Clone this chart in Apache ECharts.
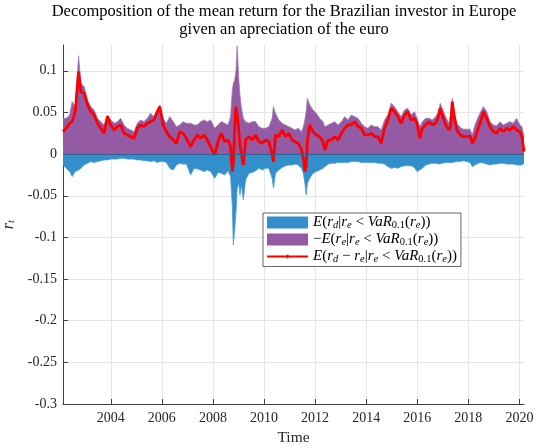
<!DOCTYPE html>
<html><head><meta charset="utf-8">
<script src="https://cdn.jsdelivr.net/npm/echarts@6/dist/echarts.min.js"></script>
<style>html,body{margin:0;padding:0;background:#fff}#c{width:535px;height:448px}</style>
</head><body><div id="c"></div>
<script>
// Time (decimal years)
const years = [
2002.13,2002.26,2002.39,2002.49,2002.61,2002.74,2002.83,2002.96,2003.09,2003.22,2003.35,2003.48,2003.61,2003.74,2003.87,2004.00,2004.13,2004.26,2004.39,2004.52,2004.65,2004.78,2004.91,2005.04,2005.17,2005.30,2005.43,2005.56,2005.69,2005.82,2005.92,2006.05,2006.18,2006.31,2006.45,2006.57,
2006.70,2006.83,2006.96,2007.13,2007.26,2007.39,2007.52,2007.65,2007.78,2007.91,2008.07,2008.20,2008.33,2008.46,2008.59,2008.69,2008.76,2008.80,2008.85,2008.90,2008.95,2009.01,2009.06,2009.11,2009.19,2009.28,2009.41,2009.54,2009.67,2009.80,2009.93,2010.06,2010.19,2010.32,2010.37,2010.45,2010.58,2010.71,2010.84,2010.97,2011.10,
2011.21,2011.34,2011.47,2011.54,2011.60,2011.65,2011.70,2011.79,2011.92,2012.05,2012.18,2012.31,2012.38,2012.51,2012.64,2012.77,2012.90,2013.03,2013.16,2013.29,2013.42,2013.55,2013.68,2013.81,2013.94,2014.07,2014.20,2014.33,2014.46,2014.59,2014.72,2014.85,2014.98,2015.11,2015.24,2015.37,2015.50,2015.63,
2015.76,2015.89,2015.99,2016.10,2016.20,2016.33,2016.46,2016.59,2016.72,2016.83,2016.90,2016.98,2017.11,2017.24,2017.31,2017.37,2017.44,2017.55,2017.68,2017.81,2017.94,2018.07,2018.15,2018.26,2018.39,2018.52,2018.59,2018.72,2018.85,2018.98,2019.11,2019.24,2019.37,2019.50,2019.63,2019.76,2019.89,2020.02,2020.10,2020.18
];
// E(r_d | r_e < VaR_0.1(r_e))  (blue, negative)
const blueVals = [
-0.013,-0.017,-0.021,-0.027,-0.021,-0.019,-0.017,-0.013,-0.011,-0.009,-0.010,-0.009,-0.008,-0.007,-0.007,-0.006,-0.006,-0.006,-0.005,-0.005,-0.006,-0.006,-0.006,-0.007,-0.007,-0.008,-0.008,-0.009,-0.008,-0.010,-0.009,-0.009,-0.010,-0.017,-0.019,-0.013,
-0.011,-0.012,-0.012,-0.025,-0.017,-0.018,-0.019,-0.021,-0.019,-0.021,-0.029,-0.022,-0.023,-0.025,-0.020,-0.027,-0.063,-0.109,-0.091,-0.071,-0.041,-0.035,-0.049,-0.037,-0.055,-0.031,-0.023,-0.022,-0.020,-0.017,-0.019,-0.017,-0.017,-0.029,-0.041,-0.023,-0.019,-0.016,-0.014,-0.013,-0.013,
-0.012,-0.013,-0.017,-0.023,-0.035,-0.049,-0.035,-0.029,-0.023,-0.021,-0.019,-0.017,-0.015,-0.012,-0.011,-0.011,-0.010,-0.010,-0.010,-0.010,-0.009,-0.009,-0.009,-0.010,-0.010,-0.010,-0.010,-0.010,-0.011,-0.011,-0.012,-0.015,-0.017,-0.016,-0.017,-0.015,-0.014,-0.014,
-0.014,-0.016,-0.021,-0.019,-0.017,-0.013,-0.012,-0.011,-0.011,-0.012,-0.012,-0.011,-0.010,-0.010,-0.010,-0.010,-0.010,-0.009,-0.009,-0.008,-0.009,-0.010,-0.015,-0.013,-0.011,-0.010,-0.010,-0.012,-0.013,-0.012,-0.012,-0.011,-0.011,-0.012,-0.012,-0.012,-0.013,-0.013,-0.013,-0.011
];
// -E(r_e | r_e < VaR_0.1(r_e))  (purple, positive)
const purpleVals = [
0.043,0.043,0.047,0.063,0.057,0.118,0.085,0.081,0.065,0.057,0.053,0.043,0.039,0.035,0.047,0.041,0.037,0.039,0.043,0.035,0.031,0.029,0.027,0.037,0.041,0.039,0.043,0.049,0.045,0.051,0.059,0.043,0.037,0.045,0.039,0.033,
0.035,0.039,0.037,0.037,0.035,0.035,0.039,0.041,0.039,0.041,0.031,0.035,0.039,0.037,0.035,0.045,0.077,0.085,0.089,0.099,0.130,0.091,0.071,0.057,0.043,0.039,0.037,0.039,0.039,0.033,0.031,0.031,0.033,0.043,0.057,0.049,0.041,0.037,0.035,0.033,0.031,
0.029,0.031,0.027,0.033,0.041,0.051,0.067,0.059,0.053,0.049,0.043,0.039,0.033,0.035,0.037,0.039,0.035,0.039,0.045,0.041,0.047,0.045,0.043,0.037,0.033,0.031,0.035,0.033,0.033,0.029,0.041,0.047,0.061,0.057,0.051,0.045,0.053,0.055,
0.047,0.051,0.043,0.033,0.039,0.043,0.043,0.041,0.045,0.051,0.061,0.055,0.045,0.037,0.049,0.067,0.051,0.037,0.032,0.030,0.030,0.030,0.023,0.035,0.045,0.053,0.057,0.051,0.039,0.035,0.034,0.039,0.035,0.037,0.039,0.037,0.043,0.035,0.033,0.021
];
// E(r_d - r_e | r_e < VaR_0.1(r_e))  (red line)
const redVals = [
0.027,0.031,0.037,0.039,0.051,0.099,0.075,0.073,0.059,0.051,0.047,0.037,0.031,0.025,0.045,0.035,0.029,0.033,0.035,0.025,0.023,0.021,0.019,0.031,0.035,0.033,0.037,0.039,0.041,0.051,0.057,0.035,0.027,0.021,0.017,0.013,
0.027,0.025,0.019,0.009,0.017,0.023,0.019,0.023,0.017,0.009,-0.001,0.015,0.025,0.015,0.017,0.009,-0.021,-0.011,0.029,0.057,0.047,0.029,0.011,0.001,-0.013,0.017,0.021,0.017,0.023,0.015,0.013,0.017,0.015,-0.001,-0.009,0.023,0.021,0.029,0.021,0.025,0.017,
0.015,0.013,0.005,-0.005,-0.021,-0.015,0.017,0.035,0.027,0.023,0.021,0.015,0.005,0.017,0.017,0.021,0.017,0.025,0.031,0.035,0.035,0.039,0.033,0.031,0.023,0.023,0.025,0.021,0.021,0.013,0.031,0.041,0.055,0.051,0.045,0.037,0.047,0.051,
0.041,0.043,0.037,0.019,0.031,0.035,0.039,0.035,0.037,0.045,0.055,0.047,0.035,0.029,0.033,0.063,0.047,0.029,0.023,0.021,0.021,0.022,0.013,0.019,0.031,0.043,0.051,0.043,0.033,0.027,0.025,0.031,0.027,0.031,0.029,0.033,0.029,0.027,0.021,0.003
];
const xTicks = [2004, 2006, 2008, 2010, 2012, 2014, 2016, 2018, 2020];
const yTicks = [-0.3, -0.25, -0.2, -0.15, -0.1, -0.05, 0, 0.05, 0.1];
const titleText = 'Decomposition of the mean return for the Brazilian investor in Europe\ngiven an apreciation of the euro';

const F = '"Liberation Serif", "DejaVu Serif", serif';
const rich = {
  n: {fontFamily: F, fontSize: 15, lineHeight: 16, color: '#000'},
  i: {fontFamily: F, fontSize: 15, fontStyle: 'italic', lineHeight: 16, color: '#000'},
  s: {fontFamily: F, fontSize: 10.5, fontStyle: 'italic', lineHeight: 10, verticalAlign: 'bottom', color: '#000'},
  sn: {fontFamily: F, fontSize: 10.5, lineHeight: 10, verticalAlign: 'bottom', color: '#000'}
};
const legendLabels = {
  blue: '{i|E}{n|(}{i|r}{s|d}{n||}{i|r}{s|e}{n| < }{i|VaR}{sn|0.1}{n|(}{i|r}{s|e}{n|))}',
  purple: '{n|\u2212}{i|E}{n|(}{i|r}{s|e}{n||}{i|r}{s|e}{n| < }{i|VaR}{sn|0.1}{n|(}{i|r}{s|e}{n|))}',
  red: '{i|E}{n|(}{i|r}{s|d}{n| \u2212 }{i|r}{s|e}{n||}{i|r}{s|e}{n| < }{i|VaR}{sn|0.1}{n|(}{i|r}{s|e}{n|))}'
};
const pair = vals => years.map((t, i) => [t, vals[i]]);

const chart = echarts.init(document.getElementById('c'), null, {renderer: 'canvas'});
chart.setOption({
  animation: false,
  backgroundColor: '#fff',
  title: {
    text: titleText, left: 284, top: 3, textAlign: 'center', padding: 0,
    textStyle: {fontFamily: F, fontSize: 16.5, fontWeight: 'normal', color: '#000', lineHeight: 18}
  },
  grid: {left: 63, right: 11, top: 45, bottom: 44, containLabel: false, outerBoundsMode: 'none'},
  legend: {
    orient: 'vertical', left: 263, top: 213, padding: [2, 4, 2, 4], itemGap: 1.5,
    itemWidth: 41, itemHeight: 12, backgroundColor: '#fff', borderColor: '#666', borderWidth: 1, borderRadius: 0,
    selectedMode: false,
    data: [
      {name: 'blue', icon: 'rect'},
      {name: 'purple', icon: 'rect'},
      {name: 'red', icon: 'path://M0,4 L40,4 L40,6 L0,6 Z M19,3.4 L21,3.4 L21,6.6 L19,6.6 Z'}
    ],
    formatter: n => legendLabels[n],
    textStyle: {rich: rich}
  },
  xAxis: {
    type: 'value', min: 2002.13, max: 2020.18,
    name: 'Time', nameLocation: 'middle', nameGap: 26,
    nameTextStyle: {fontFamily: F, fontSize: 15.5, color: '#262626'},
    axisLine: {onZero: false, lineStyle: {color: '#404040', width: 1}},
    axisTick: {inside: true, length: 5, customValues: xTicks, lineStyle: {color: '#404040'}},
    axisLabel: {customValues: xTicks, fontFamily: F, fontSize: 14, color: '#262626', margin: 7, formatter: v => String(v)},
    splitLine: {show: true, lineStyle: {color: '#e5e5e5', width: 1}}
  },
  yAxis: {
    type: 'value', min: -0.3, max: 0.131,
    name: '{i|r}{s|t}', nameLocation: 'middle', nameGap: 41, nameRotate: 90,
    nameTextStyle: {rich: {
      i: {fontFamily: F, fontSize: 16, fontStyle: 'italic', lineHeight: 16, color: '#262626'},
      s: {fontFamily: F, fontSize: 11, fontStyle: 'italic', lineHeight: 10, verticalAlign: 'bottom', color: '#262626'}
    }},
    axisLine: {show: true, lineStyle: {color: '#404040', width: 1}},
    axisTick: {show: true, inside: true, length: 5, customValues: yTicks, lineStyle: {color: '#404040'}},
    axisLabel: {customValues: yTicks, fontFamily: F, fontSize: 14, color: '#262626', margin: 6, formatter: v => String(v)},
    splitLine: {show: true, lineStyle: {color: '#e5e5e5', width: 1}}
  },
  series: [
    {
      name: 'blue', type: 'line', data: pair(blueVals), symbol: 'none', z: 2,
      lineStyle: {width: 0.8, color: '#4a9ad2'}, itemStyle: {color: '#338ecc'},
      areaStyle: {color: '#338ecc', opacity: 1},
      markLine: {silent: true, symbol: 'none', label: {show: false},
        lineStyle: {color: '#2f5f8c', width: 1, type: 'solid'}, data: [{yAxis: 0}]}
    },
    {
      name: 'purple', type: 'line', data: pair(purpleVals), symbol: 'none', z: 2,
      lineStyle: {width: 0.8, color: '#a77bb5'}, itemStyle: {color: '#945aa3'},
      areaStyle: {color: '#945aa3', opacity: 1}
    },
    {
      name: 'red', type: 'line', data: pair(redVals), symbol: 'none', z: 3,
      lineStyle: {width: 2.8, color: '#ff0000'}, itemStyle: {color: '#ff0000'}
    }
  ]
});
</script>
</body></html>
